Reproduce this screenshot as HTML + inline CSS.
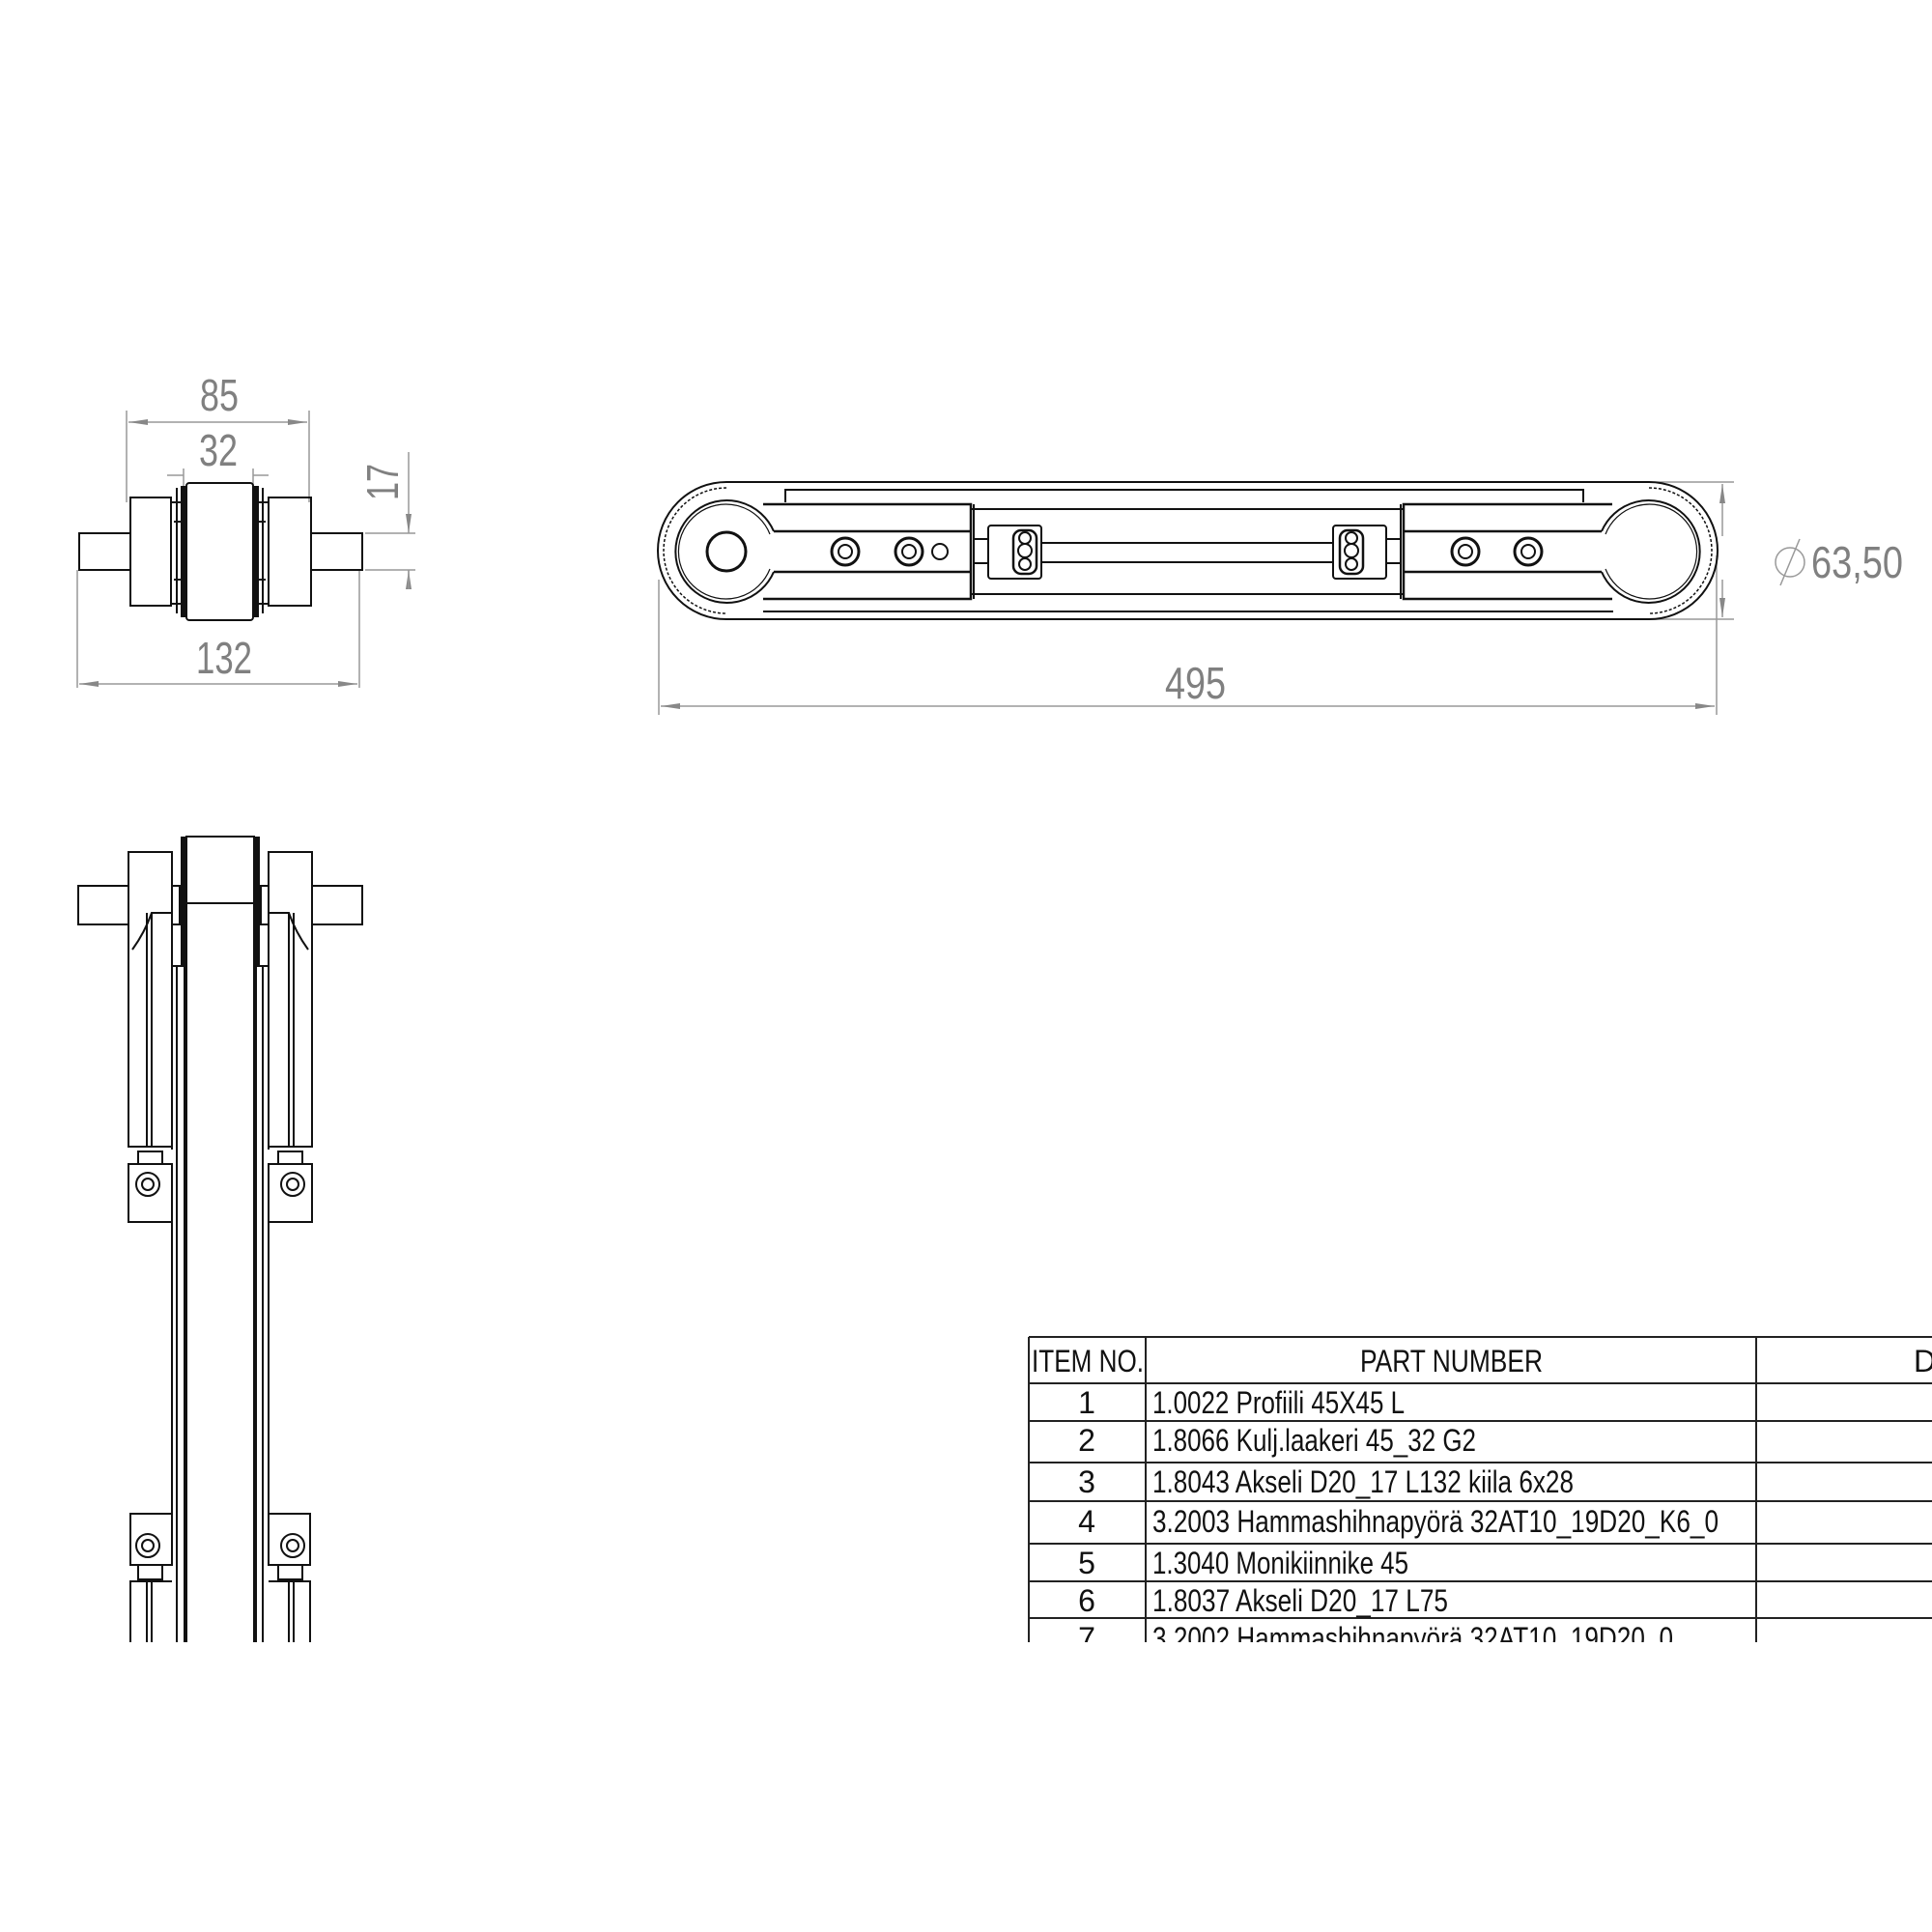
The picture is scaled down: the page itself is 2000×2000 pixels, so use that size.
<!DOCTYPE html>
<html><head><meta charset="utf-8"><style>
html,body{margin:0;padding:0;background:#fff;}
svg{display:block;}
text{font-family:"Liberation Sans",sans-serif;}
</style></head><body>
<svg width="2000" height="2000" viewBox="0 0 2000 2000" xmlns="http://www.w3.org/2000/svg">
<defs>
<marker id="ar" viewBox="0 0 20 6" refX="20" refY="3" markerWidth="20" markerHeight="6" markerUnits="userSpaceOnUse" orient="auto-start-reverse">
<path d="M0,0 L20,3 L0,6 z" fill="#888"/></marker>
<clipPath id="cl"><rect x="0" y="0" width="2000" height="1700"/></clipPath>
</defs>
<rect width="2000" height="2000" fill="#fff"/>

<!-- ===== TOP-LEFT VIEW ===== -->
<g stroke="#999" stroke-width="1.5" fill="none">
<line x1="131" y1="425" x2="131" y2="520"/>
<line x1="320" y1="425" x2="320" y2="520"/>
<line x1="133" y1="437" x2="318" y2="437" marker-start="url(#ar)" marker-end="url(#ar)"/>
<line x1="190" y1="485" x2="190" y2="505"/>
<line x1="262" y1="485" x2="262" y2="505"/>
<line x1="173" y1="492" x2="190" y2="492"/><line x1="262" y1="492" x2="278" y2="492"/>
<line x1="80" y1="590" x2="80" y2="712"/>
<line x1="372" y1="590" x2="372" y2="712"/>
<line x1="82" y1="708" x2="370" y2="708" marker-start="url(#ar)" marker-end="url(#ar)"/>
<line x1="378" y1="552" x2="430" y2="552"/>
<line x1="378" y1="590" x2="430" y2="590"/>
<line x1="423" y1="468" x2="423" y2="552" marker-end="url(#ar)"/>
<line x1="423" y1="610" x2="423" y2="590" marker-end="url(#ar)"/>
<line x1="423" y1="590" x2="423" y2="610"/>
</g>
<g fill="#808080" font-size="46">
<text x="207" y="425" textLength="40" lengthAdjust="spacingAndGlyphs">85</text>
<text x="206" y="482" textLength="40" lengthAdjust="spacingAndGlyphs">32</text>
<text x="203" y="697" textLength="58" lengthAdjust="spacingAndGlyphs">132</text>
<text transform="translate(412,518) rotate(-90)" textLength="38" lengthAdjust="spacingAndGlyphs">17</text>
</g>
<g stroke="#111" stroke-width="2" fill="none">
<rect x="82" y="552" width="53" height="38"/>
<rect x="322" y="552" width="53" height="38"/>
<rect x="135" y="515" width="42" height="112"/>
<rect x="278" y="515" width="44" height="112"/>
<rect x="193" y="500" width="69" height="142" rx="3"/>
<path d="M183,505 v130 M272,505 v130"/>
<path d="M178,520 h10 v105 h-10 M277,520 h-10 v105 h10"/>
<path d="M180,540 h8 M180,600 h8 M267,540 h8 M267,600 h8"/>
</g>
<rect x="187" y="503" width="6" height="136" fill="#111"/>
<rect x="262" y="503" width="6" height="136" fill="#111"/>

<!-- ===== MAIN VIEW ===== -->
<g stroke="#999" stroke-width="1.5" fill="none">
<line x1="682" y1="600" x2="682" y2="740"/>
<line x1="1777" y1="575" x2="1777" y2="740"/>
<line x1="684" y1="731" x2="1775" y2="731" marker-start="url(#ar)" marker-end="url(#ar)"/>
<line x1="1640" y1="499" x2="1795" y2="499"/>
<line x1="1680" y1="641" x2="1795" y2="641"/>
<line x1="1783" y1="501" x2="1783" y2="555" marker-start="url(#ar)"/>
<line x1="1783" y1="600" x2="1783" y2="639" marker-end="url(#ar)"/>
<circle cx="1853" cy="582" r="15"/>
<line x1="1843" y1="606" x2="1863" y2="558"/>
</g>
<g fill="#808080" font-size="46">
<text x="1206" y="723" textLength="63" lengthAdjust="spacingAndGlyphs">495</text>
<text x="1875" y="598" textLength="95" lengthAdjust="spacingAndGlyphs">63,50</text>
</g>

<g stroke="#111" stroke-width="2" fill="none">
<path d="M752,499 H1707 A71,71 0 0 1 1707,641 H752 A71,71 0 0 1 752,499 Z"/>
<path d="M752,505 A65,65 0 0 0 752,635" stroke-width="1.5" stroke-dasharray="3,2"/>
<path d="M1707,505 A65,65 0 0 1 1707,635" stroke-width="1.5" stroke-dasharray="3,2"/>
<path d="M813,520 V507 H1639 V520"/>
<path d="M790,633 H1670"/>
<path d="M801,550 A53,53 0 1 0 801,592"/>
<path d="M797,553 A49,49 0 1 0 797,589" stroke-width="1.2"/>
<path d="M801,550 H1005 M801,592 H1005" stroke-width="2.5"/>
<path d="M790,522 H1005 V620 H790" stroke-width="2.5"/>
<circle cx="752" cy="571" r="20" stroke-width="3"/>
<path d="M1658,550 A53,53 0 1 1 1658,592"/>
<path d="M1662,553 A49,49 0 1 1 1662,589" stroke-width="1.2"/>
<path d="M1658,550 H1453 M1658,592 H1453" stroke-width="2.5"/>
<path d="M1669,522 H1453 V620 H1669" stroke-width="2.5"/>
<path d="M1005,527 H1453 M1005,615 H1453 M1078,562 H1380 M1078,582 H1380"/>
<path d="M1008,522 V620 M1450,522 V620"/>
<circle cx="875" cy="571" r="14" stroke-width="3"/><circle cx="875" cy="571" r="7"/>
<circle cx="941" cy="571" r="14" stroke-width="3"/><circle cx="941" cy="571" r="7"/>
<circle cx="973" cy="571" r="8"/>
<circle cx="1517" cy="571" r="14" stroke-width="3"/><circle cx="1517" cy="571" r="7"/>
<circle cx="1582" cy="571" r="14" stroke-width="3"/><circle cx="1582" cy="571" r="7"/>
<rect x="1023" y="544" width="55" height="55" rx="3"/>
<rect x="1049" y="549" width="24" height="45" rx="8" stroke-width="2.5"/>
<circle cx="1061" cy="557" r="6"/><circle cx="1061" cy="570" r="7"/><circle cx="1061" cy="584" r="6"/>
<rect x="1008" y="558" width="15" height="25"/>
<rect x="1380" y="544" width="55" height="55" rx="3"/>
<rect x="1387" y="549" width="24" height="45" rx="8" stroke-width="2.5"/>
<circle cx="1399" cy="557" r="6"/><circle cx="1399" cy="570" r="7"/><circle cx="1399" cy="584" r="6"/>
<rect x="1435" y="558" width="15" height="25"/>
</g>

<!-- ===== SIDE VIEW ===== -->
<g stroke="#111" stroke-width="2" fill="none" clip-path="url(#cl)">
<path d="M193,1710 V866 H263 V1710"/>
<path d="M193,935 H263"/>
<path d="M183,1000 V1710 M272,1000 V1710 M178,1000 H193 M263,1000 H278"/>
<path d="M178,1000 V1190 M278,1000 V1190"/>
<rect x="81" y="917" width="52" height="40"/>
<rect x="323" y="917" width="52" height="40"/>
<path d="M133,882 H178 V1187 H133 Z"/>
<path d="M137,983 Q150,965 157,945 H178"/>
<path d="M152,945 V1187 M157,945 V1187"/>
<path d="M178,917 H186 V957 H178"/>
<path d="M278,882 H323 V1187 H278 Z"/>
<path d="M319,983 Q306,965 299,945 H278"/>
<path d="M304,945 V1187 M299,945 V1187"/>
<path d="M278,917 H270 V957 H278"/>
<rect x="143" y="1192" width="25" height="13"/>
<rect x="133" y="1205" width="45" height="60"/>
<circle cx="153" cy="1226" r="12"/><circle cx="153" cy="1226" r="6"/>
<rect x="288" y="1192" width="25" height="13"/>
<rect x="278" y="1205" width="45" height="60"/>
<circle cx="303" cy="1226" r="12"/><circle cx="303" cy="1226" r="6"/>
<path d="M178,1265 V1567 M278,1265 V1567"/>
<rect x="135" y="1567" width="43" height="53"/>
<circle cx="153" cy="1600" r="12"/><circle cx="153" cy="1600" r="6"/>
<rect x="143" y="1620" width="25" height="15"/>
<path d="M135,1710 V1637 H178 M152,1637 V1710 M157,1637 V1710"/>
<rect x="278" y="1567" width="43" height="53"/>
<circle cx="303" cy="1600" r="12"/><circle cx="303" cy="1600" r="6"/>
<rect x="288" y="1620" width="25" height="15"/>
<path d="M321,1710 V1637 H278 M299,1637 V1710 M304,1637 V1710"/>
</g>
<g clip-path="url(#cl)">
<rect x="187" y="866" width="6" height="134" fill="#111"/>
<rect x="263" y="866" width="6" height="134" fill="#111"/>
<rect x="190" y="1000" width="3" height="710" fill="#111"/>
<rect x="263" y="1000" width="3" height="710" fill="#111"/>
</g>

<!-- ===== TABLE ===== -->
<g stroke="#222" stroke-width="2" fill="none" clip-path="url(#cl)">
<path d="M1065,1384 H2000 M1065,1432 H2000 M1065,1471 H2000 M1065,1514 H2000 M1065,1554 H2000 M1065,1598 H2000 M1065,1637 H2000 M1065,1675 H2000"/>
<path d="M1065,1384 V1710 M1186,1384 V1710 M1818,1384 V1710"/>
</g>
<g fill="#111" font-size="32" clip-path="url(#cl)">
<text x="1068" y="1420" textLength="116" lengthAdjust="spacingAndGlyphs">ITEM NO.</text>
<text x="1408" y="1420" textLength="189" lengthAdjust="spacingAndGlyphs">PART NUMBER</text>
<text x="1981" y="1420">D</text>
<g text-anchor="middle">
<text x="1125" y="1463">1</text><text x="1125" y="1502">2</text><text x="1125" y="1545">3</text>
<text x="1125" y="1586">4</text><text x="1125" y="1629">5</text><text x="1125" y="1668">6</text>
<text x="1125" y="1707">7</text>
</g>
<text x="1193" y="1463" textLength="261" lengthAdjust="spacingAndGlyphs">1.0022 Profiili 45X45 L</text>
<text x="1193" y="1502" textLength="335" lengthAdjust="spacingAndGlyphs">1.8066 Kulj.laakeri 45_32 G2</text>
<text x="1193" y="1545" textLength="436" lengthAdjust="spacingAndGlyphs">1.8043 Akseli D20_17 L132 kiila 6x28</text>
<text x="1193" y="1586" textLength="586" lengthAdjust="spacingAndGlyphs">3.2003 Hammashihnapyörä 32AT10_19D20_K6_0</text>
<text x="1193" y="1629" textLength="265" lengthAdjust="spacingAndGlyphs">1.3040 Monikiinnike 45</text>
<text x="1193" y="1668" textLength="306" lengthAdjust="spacingAndGlyphs">1.8037 Akseli D20_17 L75</text>
<text x="1193" y="1707" textLength="539" lengthAdjust="spacingAndGlyphs">3.2002 Hammashihnapyörä 32AT10_19D20_0</text>
</g>
</svg>
</body></html>
